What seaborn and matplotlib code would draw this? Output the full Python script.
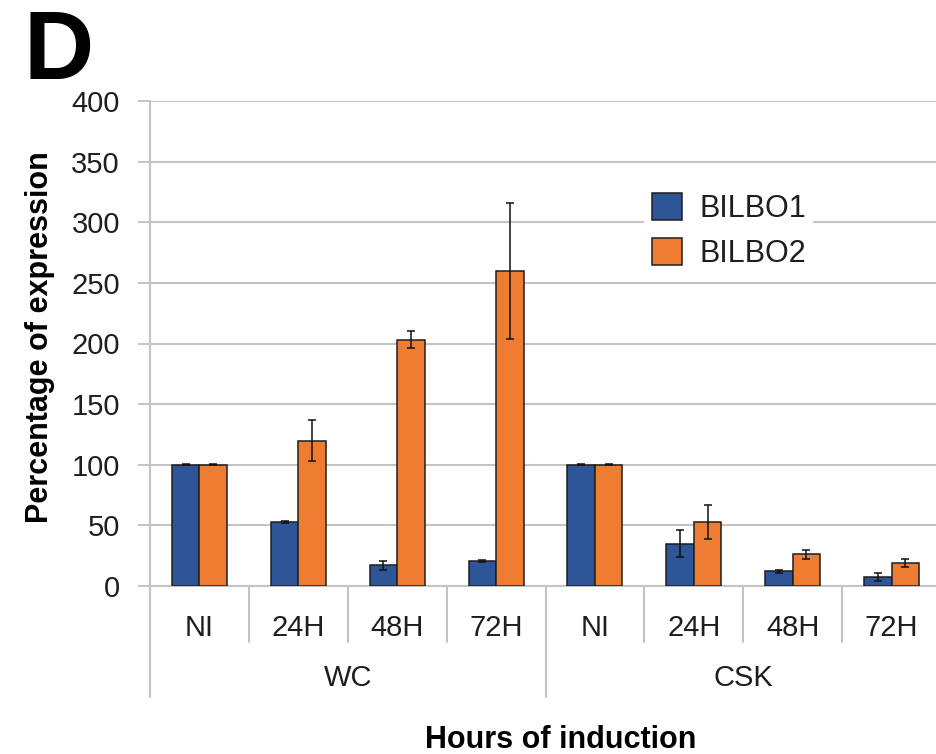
import numpy as np
import pandas as pd
import matplotlib
matplotlib.use("Agg")
import matplotlib.pyplot as plt
import seaborn as sns
from matplotlib.patches import Patch
from matplotlib.transforms import blended_transform_factory

# ---- data -------------------------------------------------------------
groups = ["WC", "CSK"]
timepoints = ["NI", "24H", "48H", "72H"]
genes = ["BILBO1", "BILBO2"]

bilbo1_mean = [100, 53, 17, 20.5, 100, 35, 12, 7.5]
bilbo1_err = [0.5, 1, 4, 1, 0.5, 11, 1, 3]
bilbo2_mean = [100, 120, 203, 260, 100, 53, 26, 19]
bilbo2_err = [0.5, 17, 7, 56, 0.5, 14, 4, 3]

yticks = [0, 50, 100, 150, 200, 250, 300, 350, 400]

# ---- styling ----------------------------------------------------------
sns.set_theme(style="white")
plt.rcParams["font.family"] = ["Liberation Sans", "DejaVu Sans"]

BLUE = "#2E5597"
ORANGE = "#EE7D31"
EDGE = "#1e1e1e"
GRID = "#c4c4c4"
TXT = "#1e1e1e"

cond_keys = [f"{g}|{t}" for g in groups for t in timepoints]
df = pd.DataFrame({
    "condition": cond_keys * 2,
    "gene": [genes[0]] * 8 + [genes[1]] * 8,
    "value": bilbo1_mean + bilbo2_mean,
})
errors = {genes[0]: bilbo1_err, genes[1]: bilbo2_err}

W, H = 936, 754
fig = plt.figure(figsize=(W / 100, H / 100), dpi=100)
ax_left, ax_right, ax_top, ax_bot = 150, 941, 101, 586
ax = fig.add_axes([ax_left / W, (H - ax_bot) / H,
                   (ax_right - ax_left) / W, (ax_bot - ax_top) / H])

sns.barplot(data=df, x="condition", y="value", hue="gene",
            order=cond_keys, hue_order=genes,
            palette=[BLUE, ORANGE], saturation=1, width=0.556, gap=0,
            edgecolor=EDGE, linewidth=1.1, errorbar=None,
            legend=False, ax=ax, zorder=3)

# error bars on top of each bar
for gene, container in zip(genes, ax.containers):
    xs = [b.get_x() + b.get_width() / 2 for b in container]
    ys = [b.get_height() for b in container]
    ax.errorbar(xs, ys, yerr=errors[gene], fmt="none", ecolor="#111111",
                elinewidth=1.1, capsize=3, capthick=1.1, zorder=4)

ax.set_xlim(-0.5, 7.5)
ax.set_ylim(0, 400)
ax.set_yticks(yticks)
ax.set_yticklabels([str(v) for v in yticks], fontsize=21, color=TXT)
ax.yaxis.grid(True, color=GRID, linewidth=1.5)
ax.set_axisbelow(True)
ax.tick_params(axis="y", length=8.6, width=1.4, color=GRID, pad=13, left=True)

ax.set_xticks(range(8))
ax.set_xticklabels(timepoints * 2, fontsize=21, color=TXT)
ax.tick_params(axis="x", length=0, pad=20)
ax.set_xlabel("")
ax.set_ylabel("")

for side in ["top", "right"]:
    ax.spines[side].set_visible(False)
ax.spines["left"].set_color(GRID)
ax.spines["left"].set_linewidth(1.5)
ax.spines["bottom"].set_color(GRID)
ax.spines["bottom"].set_linewidth(1.5)

# category separators below the axis
tr = blended_transform_factory(ax.transData, ax.transAxes)
axh = ax_bot - ax_top
inner_y = -(642 - ax_bot) / axh
outer_y = -(697 - ax_bot) / axh
for x in [0.5, 1.5, 2.5, 4.5, 5.5, 6.5]:
    ax.plot([x, x], [0, inner_y], transform=tr, color=GRID, lw=1.5,
            clip_on=False, zorder=1)
for x in [-0.5, 3.5, 7.5]:
    ax.plot([x, x], [0, outer_y], transform=tr, color=GRID, lw=1.5,
            clip_on=False, zorder=1)

# group labels
group_y = -(678 - ax_bot) / axh
for i, g in enumerate(groups):
    ax.text(i * 4 + 1.5, group_y, g, transform=tr, ha="center", va="center",
            fontsize=21, color=TXT)

# legend
handles = [Patch(facecolor=BLUE, edgecolor=EDGE, linewidth=1.1, label=genes[0]),
           Patch(facecolor=ORANGE, edgecolor=EDGE, linewidth=1.1, label=genes[1])]
leg = ax.legend(handles=handles, loc="upper left",
                bbox_to_anchor=((644 - ax_left) / (ax_right - ax_left),
                                (ax_bot - 185) / axh),
                borderaxespad=0, borderpad=0.25, fontsize=22,
                handlelength=1.0, handleheight=1.0, handletextpad=0.55,
                labelspacing=0.45, frameon=True, fancybox=False)
leg.get_frame().set_facecolor("white")
leg.get_frame().set_edgecolor("none")
leg.get_frame().set_alpha(1)
for t in leg.get_texts():
    t.set_color(TXT)

# titles
fig.text(24 / W, 1 - 9 / H, "D", fontsize=70, fontweight="bold",
         ha="left", va="top", color="black")
fig.text(561 / W, 1 - 740 / H, "Hours of induction", fontsize=22,
         fontweight="bold", ha="center", va="center", color="black")
fig.text(40 / W, 1 - 337 / H, "Percentage of expression", fontsize=22,
         fontweight="bold", ha="center", va="center", rotation=90,
         color="black")

fig.savefig("out.png", dpi=100)
